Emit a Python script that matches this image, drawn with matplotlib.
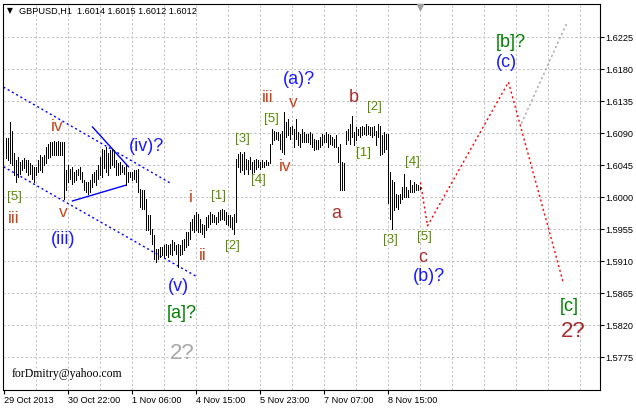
import matplotlib
matplotlib.use("Agg")
import matplotlib.pyplot as plt

symbol_title = "GBPUSD,H1  1.6014 1.6015 1.6012 1.6012"
watermark = "forDmitry@yahoo.com"

bar_high = [
    1.6083, 1.6083, 1.6106, 1.6094, 1.6062, 1.6052, 1.6057, 1.6050, 1.6052, 1.6055,
    1.6053, 1.6052, 1.6048, 1.6045, 1.6043, 1.6043, 1.6052, 1.6059, 1.6057, 1.6059,
    1.6071, 1.6075, 1.6078, 1.6078, 1.6079, 1.6078, 1.6079, 1.6078, 1.6078, 1.6078,
    1.6038, 1.6045, 1.6040, 1.6043, 1.6036, 1.6038, 1.6040, 1.6043, 1.6036, 1.6024,
    1.6022, 1.6022, 1.6024, 1.6033, 1.6036, 1.6038, 1.6045, 1.6057, 1.6068, 1.6066,
    1.6071, 1.6062, 1.6066, 1.6068, 1.6066, 1.6052, 1.6048, 1.6050, 1.6045, 1.6043,
    1.6045, 1.6036, 1.6036, 1.6036, 1.6038, 1.6038, 1.6040, 1.6012, 1.6010, 1.6010,
    1.5998, 1.5975, 1.5975, 1.5956, 1.5947, 1.5928, 1.5928, 1.5930, 1.5930, 1.5933,
    1.5935, 1.5933, 1.5935, 1.5940, 1.5937, 1.5933, 1.5935, 1.5933, 1.5940, 1.5942,
    1.5951, 1.5951, 1.5965, 1.5970, 1.5975, 1.5980, 1.5977, 1.5970, 1.5963, 1.5961,
    1.5973, 1.5975, 1.5980, 1.5977, 1.5975, 1.5973, 1.5980, 1.5982, 1.5984, 1.5982,
    1.5980, 1.5975, 1.5975, 1.5973, 1.5977, 1.6054, 1.6061, 1.6064, 1.6061, 1.6064,
    1.6054, 1.6052, 1.6057, 1.6050, 1.6052, 1.6054, 1.6052, 1.6050, 1.6052, 1.6050,
    1.6052, 1.6050, 1.6075, 1.6096, 1.6094, 1.6092, 1.6092, 1.6089, 1.6094, 1.6120,
    1.6106, 1.6110, 1.6099, 1.6101, 1.6096, 1.6110, 1.6092, 1.6089, 1.6096, 1.6092,
    1.6089, 1.6089, 1.6092, 1.6089, 1.6082, 1.6080, 1.6080, 1.6085, 1.6089, 1.6087,
    1.6092, 1.6089, 1.6087, 1.6085, 1.6082, 1.6087, 1.6071, 1.6075, 1.6050, 1.6048,
    1.6094, 1.6096, 1.6103, 1.6115, 1.6092, 1.6099, 1.6096, 1.6099, 1.6101, 1.6099,
    1.6103, 1.6101, 1.6099, 1.6099, 1.6101, 1.6094, 1.6103, 1.6101, 1.6087, 1.6092,
    1.6089, 1.6089, 1.6036, 1.6024, 1.6022, 1.6005, 1.6003, 1.6005, 1.6015, 1.6033,
    1.6015, 1.6010, 1.6024, 1.6017, 1.6022, 1.6019, 1.6017, 1.6015,
]
bar_low = [
    1.6055, 1.6052, 1.6048, 1.6045, 1.6031, 1.6022, 1.6029, 1.6033, 1.6038, 1.6041,
    1.6036, 1.6031, 1.6033, 1.6026, 1.6022, 1.6031, 1.6036, 1.6038, 1.6036, 1.6045,
    1.6048, 1.6055, 1.6057, 1.6059, 1.6059, 1.6059, 1.6059, 1.6059, 1.6059, 1.5998,
    1.6010, 1.6022, 1.6026, 1.6019, 1.6022, 1.6024, 1.6031, 1.6026, 1.6022, 1.6010,
    1.6008, 1.6005, 1.6008, 1.6015, 1.6022, 1.6017, 1.6026, 1.6031, 1.6029, 1.6041,
    1.6036, 1.6031, 1.6041, 1.6045, 1.6043, 1.6031, 1.6031, 1.6033, 1.6036, 1.6033,
    1.6017, 1.6022, 1.6029, 1.6024, 1.6026, 1.6022, 1.6008, 1.5986, 1.5984, 1.5984,
    1.5954, 1.5954, 1.5949, 1.5935, 1.5914, 1.5909, 1.5914, 1.5916, 1.5919, 1.5916,
    1.5919, 1.5916, 1.5921, 1.5919, 1.5926, 1.5921, 1.5902, 1.5919, 1.5921, 1.5926,
    1.5930, 1.5933, 1.5942, 1.5954, 1.5951, 1.5954, 1.5951, 1.5951, 1.5949, 1.5944,
    1.5954, 1.5959, 1.5963, 1.5965, 1.5965, 1.5963, 1.5965, 1.5968, 1.5970, 1.5968,
    1.5963, 1.5961, 1.5959, 1.5956, 1.5949, 1.5965, 1.6043, 1.6036, 1.6038, 1.6033,
    1.6040, 1.6033, 1.6040, 1.6033, 1.6036, 1.6040, 1.6043, 1.6040, 1.6043, 1.6043,
    1.6045, 1.6045, 1.6048, 1.6075, 1.6080, 1.6082, 1.6080, 1.6068, 1.6064, 1.6061,
    1.6085, 1.6087, 1.6082, 1.6089, 1.6071, 1.6082, 1.6073, 1.6071, 1.6078, 1.6078,
    1.6078, 1.6078, 1.6075, 1.6071, 1.6066, 1.6068, 1.6068, 1.6071, 1.6073, 1.6078,
    1.6078, 1.6071, 1.6075, 1.6073, 1.6071, 1.6071, 1.6050, 1.6010, 1.6010, 1.6010,
    1.6075, 1.6080, 1.6075, 1.6085, 1.6073, 1.6080, 1.6087, 1.6085, 1.6087, 1.6089,
    1.6087, 1.6089, 1.6087, 1.6085, 1.6087, 1.6073, 1.6085, 1.6059, 1.6061, 1.6064,
    1.6068, 1.5992, 1.5970, 1.5956, 1.5982, 1.5986, 1.5984, 1.5992, 1.5998, 1.6001,
    1.6001, 1.6001, 1.6008, 1.6008, 1.6008, 1.6010, 1.6010, 1.6012,
]

time_tick_pos = [-1, 31, 63, 95, 127, 159, 191]
time_tick_labels = ["29 Oct 2013", "30 Oct 22:00", "1 Nov 06:00", "4 Nov 15:00",
                    "5 Nov 23:00", "7 Nov 07:00", "8 Nov 15:00"]
price_ticks = [1.5775, 1.5820, 1.5865, 1.5910, 1.5955, 1.6000, 1.6045,
               1.6090, 1.6135, 1.6180, 1.6225]
time_grid = [15 + 16 * k for k in range(18)]

# drawn objects (bar index, price)
channel_upper = ([-1, 82.5], [1.6155, 1.6020])
channel_lower = ([-1, 96], [1.6043, 1.5888])
tri_lower = ([33.5, 60], [1.5995, 1.6017])
tri_upper = ([43.5, 61.5], [1.6099, 1.6043])
forecast_x = [207.5, 211, 251.5, 279]
forecast_y = [1.6021, 1.5960, 1.6162, 1.5879]
gray_x = [258, 280.5]
gray_y = [1.6104, 1.6244]

ROMAN = "#c8461e"
ABC = "#a8302e"
BLUE = "#1a1aff"
GREEN = "#008000"
OLIVE = "#5a8a00"

labels = [
    ("iv", 25.8, 1.6099, ROMAN, 12.5),
    ("[5]", 4.3, 1.6001, OLIVE, 9.5),
    ("iii", 4.3, 1.5971, ROMAN, 12.5),
    ("v", 28.8, 1.5979, ROMAN, 12.5),
    ("(iii)", 28.8, 1.5941, BLUE, 13),
    ("(iv)?", 70.3, 1.6072, BLUE, 13),
    ("i", 92.8, 1.6000, ROMAN, 12.5),
    ("ii", 98.8, 1.5919, ROMAN, 12.5),
    ("(v)", 86.3, 1.5875, BLUE, 13),
    ("[a]?", 88.3, 1.5837, GREEN, 13),
    ("2?", 88.3, 1.5781, "#a8a8a8", 16),
    ("[1]", 106.3, 1.6002, OLIVE, 9.5),
    ("[2]", 113.3, 1.5932, OLIVE, 9.5),
    ("[3]", 118.3, 1.6082, OLIVE, 9.5),
    ("[4]", 126.3, 1.6024, OLIVE, 9.5),
    ("[5]", 132.8, 1.6110, OLIVE, 9.5),
    ("iii", 131.3, 1.6140, ROMAN, 12.5),
    ("v", 143.8, 1.6134, ROMAN, 12.5),
    ("(a)?", 146.8, 1.6165, BLUE, 13),
    ("iv", 139.8, 1.6043, ROMAN, 12.5),
    ("a", 165.3, 1.5978, ABC, 13),
    ("b", 174.3, 1.6140, ABC, 13),
    ("[2]", 184.3, 1.6127, OLIVE, 9.5),
    ("[1]", 178.8, 1.6062, OLIVE, 9.5),
    ("[4]", 203.3, 1.6050, OLIVE, 9.5),
    ("[3]", 192.3, 1.5940, OLIVE, 9.5),
    ("[5]", 209.3, 1.5944, OLIVE, 9.5),
    ("c", 208.8, 1.5915, ABC, 13),
    ("(b)?", 211.8, 1.5889, BLUE, 13),
    ("[b]?", 252.8, 1.6218, GREEN, 13),
    ("(c)", 250.3, 1.6189, BLUE, 13),
    ("[c]", 281.8, 1.5846, GREEN, 13),
    ("2?", 283.8, 1.5811, "#a52a2a", 16),
]

W, H = 636, 408
fig = plt.figure(figsize=(W / 100, H / 100), dpi=100)
fig.patch.set_facecolor("white")
ax = fig.add_axes([3.5 / W, (H - 389.5) / H, 596 / W, 386 / H])
ax.set_xlim(-1, 297)
ax.set_ylim(1.5730, 1.62725)

grid_kw = dict(color="#c0c0c0", linewidth=0.72, linestyle=(0, (2.2, 2.2)), zorder=0)
for g in time_grid:
    ax.axvline(g, **grid_kw)
for p in price_ticks:
    ax.axhline(p, **grid_kw)

idx = list(range(len(bar_high)))
ax.vlines(idx, bar_low, bar_high, color="black", linewidth=0.72, antialiased=False, zorder=3)

dot = (0, (1.5, 2.0))
ax.plot(*channel_upper, color="#0000ff", linewidth=1.0, linestyle=dot, zorder=2)
ax.plot(*channel_lower, color="#0000ff", linewidth=1.0, linestyle=dot, zorder=2)
ax.plot(*tri_lower, color="#0000ff", linewidth=1.0, zorder=2)
ax.plot(*tri_upper, color="#0000ff", linewidth=1.0, zorder=2)
ax.plot(forecast_x, forecast_y, color="#ff0000", linewidth=1.0, linestyle=dot, zorder=2)
ax.plot(gray_x, gray_y, color="#a0a0a0", linewidth=1.0, linestyle=dot, zorder=2)

for txt, x, y, c, s in labels:
    ax.text(x, y, txt, color=c, fontsize=s, ha="center", va="center",
            family="Liberation Sans", zorder=4)

# chart shift marker
ax.plot([207], [1.6268], marker="v", markersize=5, color="#a0a0a0", clip_on=False, zorder=5)

for sp in ax.spines.values():
    sp.set_color("black")
    sp.set_linewidth(0.8)

ax.yaxis.tick_right()
ax.set_yticks(price_ticks)
ax.set_yticklabels([f"{p:.4f}" for p in price_ticks])
ax.set_xticks(time_tick_pos)
ax.set_xticklabels(time_tick_labels, ha="left")
ax.tick_params(axis="both", direction="out", length=3, width=0.8, color="black",
               labelsize=6.6, pad=1.5)
for t in ax.get_xticklabels() + ax.get_yticklabels():
    t.set_family("Liberation Sans")

fig.text(10 / W, 1 - 11 / H, "▼", fontsize=5.5, ha="center", va="center", color="black")
fig.text(19 / W, 1 - 11 / H, symbol_title, fontsize=6.6, ha="left", va="center",
         family="Liberation Sans", color="black")
fig.text(12 / W, 1 - 374 / H, watermark, fontsize=8.5, ha="left", va="center",
         family="Liberation Serif", color="black")

fig.savefig("out.png", dpi=100)
